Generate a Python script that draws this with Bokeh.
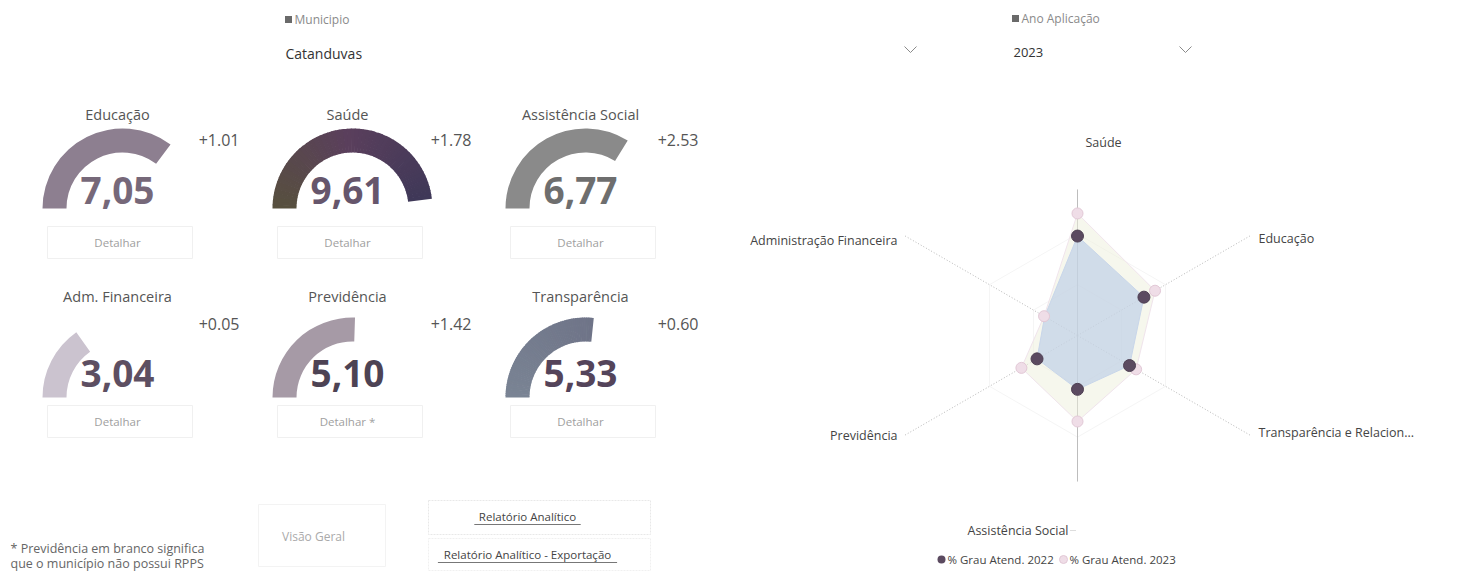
import math
from bokeh.plotting import figure
from bokeh.models import Range1d, ColumnDataSource
from bokeh.core.properties import value
from bokeh.embed import file_html
from bokeh.resources import INLINE

# ---------------- data ----------------
municipio_titulo = "Municipio"
municipio = "Catanduvas"
ano_titulo = "Ano Aplicação"
ano = "2023"

indicadores = ["Educação", "Saúde", "Assistência Social",
               "Adm. Financeira", "Previdência", "Transparência"]
nota_2023 = [7.05, 9.61, 6.77, 3.04, 5.10, 5.33]
variacao = [1.01, 1.78, 2.53, 0.05, 1.42, 0.60]
nota_max = 10.0

radar_eixos = ["Saúde", "Educação", "Transparência e Relacion...",
               "Assistência Social", "Previdência", "Administração Financeira"]
radar_2022 = [7.83, 6.04, 4.73, 4.24, 3.68, 2.99]
radar_2023 = [9.61, 7.05, 5.33, 6.77, 5.10, 3.04]
legenda = ["% Grau Atend. 2022", "% Grau Atend. 2023"]

botao = "Detalhar"
botao_prev = "Detalhar *"
nota_rodape = ["* Previdência em branco significa", "que o município não possui RPPS"]
links = ["Relatório Analítico", "Relatório Analítico - Exportação"]
visao = "Visão Geral"

# ---------------- styling / layout ----------------
W, H = 1462, 571
FONT = "Open Sans"


def X(x):
    return x


def Y(y):
    return H - y


p = figure(width=W, height=H, output_backend="svg", toolbar_location=None,
           x_range=Range1d(0, W), y_range=Range1d(0, H), min_border=0)
p.axis.visible = False
p.grid.visible = False
p.outline_line_color = None
p.background_fill_color = "white"
p.border_fill_color = "white"


def txt(x, y, s, size, color, align="left", style="normal", font=FONT, baseline="middle"):
    p.text(x=[X(x)], y=[Y(y)], text=[s], text_font=value(font),
           text_font_size=f"{size}px", text_color=color, text_align=align,
           text_baseline=baseline, text_font_style=style)


def box(x0, y0, x1, y1, color="#e4e4e4", dash="solid"):
    p.quad(left=[X(x0)], right=[X(x1)], top=[Y(y0)], bottom=[Y(y1)],
           fill_color=None, line_color=color, line_width=1, line_dash=dash)


def hex2rgb(h):
    h = h.lstrip("#")
    return tuple(int(h[i:i + 2], 16) for i in (0, 2, 4))


def interp(stops, t):
    if len(stops) == 1:
        return stops[0]
    seg = min(int(t * (len(stops) - 1)), len(stops) - 2)
    lt = t * (len(stops) - 1) - seg
    a, b = hex2rgb(stops[seg]), hex2rgb(stops[seg + 1])
    c = tuple(int(round(a[i] + (b[i] - a[i]) * lt)) for i in range(3))
    return "#%02x%02x%02x" % c


# ---------------- filters header ----------------
p.rect(x=[X(288)], y=[Y(19)], width=7, height=7, fill_color="#6a6a6a", line_color=None)
txt(294, 19, municipio_titulo, 12, "#8a8a8a")
txt(285, 53, municipio, 14, "#333333")
p.rect(x=[X(1015)], y=[Y(18)], width=7, height=7, fill_color="#6a6a6a", line_color=None)
txt(1021, 18, ano_titulo, 12, "#8a8a8a")
txt(1013, 52, ano, 13, "#333333")
for cx in (910, 1185):
    p.line(x=[X(cx - 6), X(cx), X(cx + 6)], y=[Y(46), Y(52), Y(46)],
           line_color="#8a8a8a", line_width=1)

# ---------------- gauges ----------------
col_x = [122, 352, 585]
row_y = [208, 397]
title_y = [114, 296]
delta_y = [139, 323]
value_y = [190, 373]
btn_y = [242, 421]
delta_right = [239, 471, 698]
R_OUT, R_IN = 80, 56

gauge_colors = [["#8d7f90"],
                ["#57503e", "#5a3f5c", "#3f3858"],
                ["#8a8a8a"],
                ["#cbc3cf"],
                ["#a69aa6"],
                ["#7a8494", "#6f7488"]]
value_colors = ["#766879", "#66566c", "#6e6e6e", "#5d4f62", "#4d4354", "#54445a"]

for i, nome in enumerate(indicadores):
    r, c = divmod(i, 3)
    cx, cy = col_x[c], row_y[r]
    frac = nota_2023[i] / nota_max
    stops = gauge_colors[i]
    nseg = 1 if len(stops) == 1 else 60
    ends = [math.pi - frac * math.pi * k / nseg for k in range(nseg + 1)]
    src = ColumnDataSource(dict(
        x=[X(cx)] * nseg, y=[Y(cy)] * nseg,
        start=[ends[k + 1] for k in range(nseg)],
        end=[ends[k] + (0.01 if k > 0 else 0) for k in range(nseg)],
        color=[interp(stops, (k + 0.5) / nseg) for k in range(nseg)]))
    p.annular_wedge(x="x", y="y", inner_radius=R_IN, outer_radius=R_OUT,
                    start_angle="start", end_angle="end", direction="anticlock",
                    fill_color="color", line_color=None, source=src)
    txt(cx - 5, title_y[r], nome, 14.5, "#555555", align="center")
    txt(delta_right[c], delta_y[r], f"+{variacao[i]:.2f}", 16, "#555555", align="right")
    txt(cx - 5, value_y[r], f"{nota_2023[i]:.2f}".replace(".", ","), 37,
        value_colors[i], align="center", style="bold")
    box(cx - 75, btn_y[r] - 16, cx + 70, btn_y[r] + 16, color="#f0f0f0")
    txt(cx - 5, btn_y[r], botao_prev if nome == "Previdência" else botao, 11.5,
        "#a0a0a0", align="center")

# ---------------- bottom buttons ----------------
txt(10, 548, nota_rodape[0], 12.5, "#666666")
txt(10, 563, nota_rodape[1], 12.5, "#666666")
box(258, 504, 385, 566, color="#f3f3f3")
txt(313, 536, visao, 12, "#aaaaaa", align="center")
box(428, 500, 650, 534, color="#e8e8e8", dash="2 1")
box(428, 538, 650, 570, color="#f0f0f0", dash="2 1")
for k, (s, yy) in enumerate(zip(links, (516, 554))):
    txt(527, yy, s, 11.5, "#444444", align="center")
    wlen = 5.6 * len(s)
    p.line(x=[X(527 - wlen / 2), X(527 + wlen / 2)], y=[Y(yy + 8), Y(yy + 8)],
           line_color="#777777", line_width=1)

# ---------------- radar ----------------
RCX, RCY = 1077, 335
K = 12.7          # px per unit
angles = [90, 30, -30, -90, -150, 150]

# faint grid hexagons
for lvl in (4, 8):
    gx = [X(RCX) + lvl * K * math.cos(math.radians(a)) for a in angles + [angles[0]]]
    gy = [Y(RCY) + lvl * K * math.sin(math.radians(a)) for a in angles + [angles[0]]]
    p.line(x=gx, y=gy, line_color="#f5f5f5", line_width=1)

# axes
for a in angles:
    vert = a in (90, -90)
    L = 11.5 if vert else 15.7
    p.line(x=[X(RCX), X(RCX) + L * K * math.cos(math.radians(a))],
           y=[Y(RCY), Y(RCY) + L * K * math.sin(math.radians(a))],
           line_color="#bdbdbd" if vert else "#b8b8b8", line_width=1,
           line_dash="solid" if vert else "1 2")


def poly(vals):
    xs = [X(RCX) + v * K * math.cos(math.radians(a)) for v, a in zip(vals, angles)]
    ys = [Y(RCY) + v * K * math.sin(math.radians(a)) for v, a in zip(vals, angles)]
    return xs, ys


x23, y23 = poly(radar_2023)
x22, y22 = poly(radar_2022)
p.patch(x23, y23, fill_color="#eef0dc", fill_alpha=0.5, line_color="#f0e4ec", line_width=1)
p.patch(x22, y22, fill_color="#b8cae6", fill_alpha=0.6, line_color="#c8d6ea", line_width=1)
p.scatter(x23, y23, size=11, fill_color="#efdde7", line_color="#e2c8d6", line_width=1)
p.scatter(x22[:5], y22[:5], size=12, fill_color="#5b4a60", line_color="#4e4053", line_width=1)

# axis labels
lab_pos = [(1085, 142, "left"), (1258, 238, "left"), (1258, 432, "left"),
           (1068, 530, "right"), (897, 435, "right"), (897, 240, "right")]
for s, (lx, ly, al) in zip(radar_eixos, lab_pos):
    txt(lx, ly, s, 12.5, "#444444", align=al)
p.line(x=[X(1070), X(1076)], y=[Y(530), Y(530)], line_color="#bbbbbb", line_dash="1 1")

# legend
p.scatter([X(941)], [Y(559)], size=8, fill_color="#5b4a60", line_color=None)
txt(947, 559, legenda[0], 11.5, "#444444")
p.scatter([X(1063)], [Y(559)], size=8, fill_color="#efdde7", line_color="#e2c8d6")
txt(1069, 559, legenda[1], 11.5, "#444444")

open("out.html", "w").write(file_html(p, INLINE))
